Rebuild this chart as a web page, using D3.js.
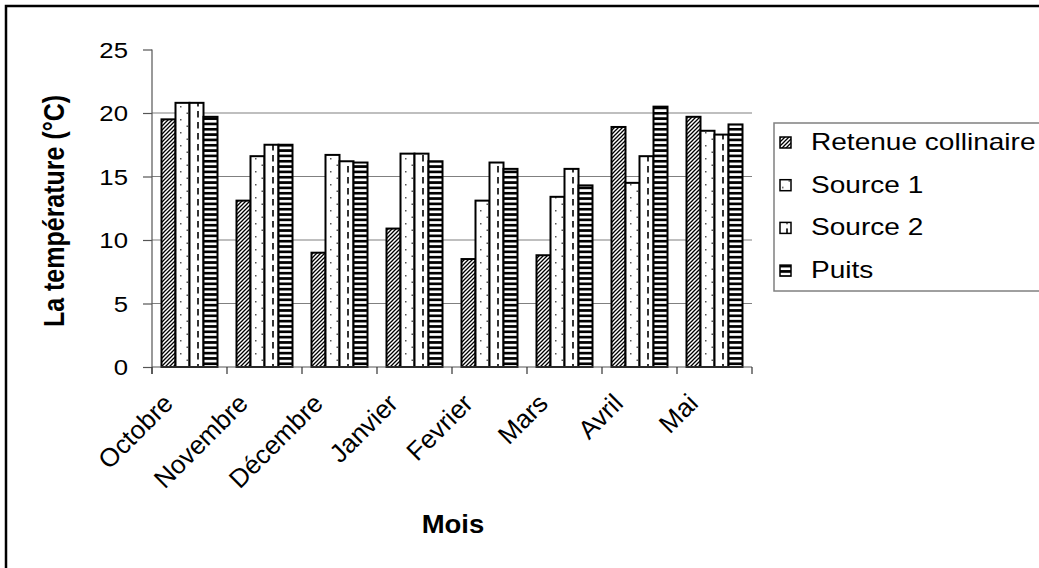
<!DOCTYPE html>
<html>
<head>
<meta charset="utf-8">
<script src="https://cdn.jsdelivr.net/npm/d3@7"></script>
<style>
  body { margin: 0; background: #fff; }
  text { font-family: "Liberation Sans", Arial, sans-serif; fill: #000; }
</style>
</head>
<body>
<div id="chart"></div>
<script>
// Données
var mois = ["Octobre", "Novembre", "Décembre", "Janvier", "Fevrier", "Mars", "Avril", "Mai"];
var series = ["Retenue collinaire", "Source 1", "Source 2", "Puits"];
var retenue = [19.5, 13.1, 9.0, 10.9, 8.5, 8.8, 18.9, 19.7];
var source1 = [20.8, 16.6, 16.7, 16.8, 13.1, 13.4, 14.5, 18.6];
var source2 = [20.8, 17.5, 16.2, 16.8, 16.1, 15.6, 16.6, 18.3];
var puits   = [19.7, 17.5, 16.1, 16.2, 15.6, 14.3, 20.5, 19.1];
var yTicks = [0, 5, 10, 15, 20, 25];

var valeurs = [retenue, source1, source2, puits];
var patterns = ["p-hatch", "p-dots", "p-dash", "p-stripes"];

var W = 1039, H = 568;
var svg = d3.select("#chart").append("svg")
    .attr("width", W)
    .attr("height", H);

// motifs de remplissage
var defs = svg.append("defs");

var hatch = defs.append("pattern").attr("id", "p-hatch")
    .attr("patternUnits", "userSpaceOnUse").attr("width", 4).attr("height", 4);
hatch.append("rect").attr("width", 4).attr("height", 4).attr("fill", "#fff");
hatch.append("path").attr("d", "M-1,1 l2,-2 M0,4 l4,-4 M3,5 l2,-2")
    .attr("stroke", "#000").attr("stroke-width", 1.3);

var dots = defs.append("pattern").attr("id", "p-dots")
    .attr("patternUnits", "userSpaceOnUse").attr("width", 13).attr("height", 13);
dots.append("rect").attr("width", 13).attr("height", 13).attr("fill", "#fff");
dots.append("rect").attr("x", 2).attr("y", 2).attr("width", 1.5).attr("height", 1.5).attr("fill", "#555");
dots.append("rect").attr("x", 8.5).attr("y", 8.5).attr("width", 1.5).attr("height", 1.5).attr("fill", "#555");

var dash = defs.append("pattern").attr("id", "p-dash")
    .attr("patternUnits", "userSpaceOnUse").attr("width", 13).attr("height", 11);
dash.append("rect").attr("width", 13).attr("height", 11).attr("fill", "#fff");
dash.append("rect").attr("x", 6).attr("y", 1).attr("width", 2).attr("height", 6.5).attr("fill", "#333");

var stripes = defs.append("pattern").attr("id", "p-stripes")
    .attr("patternUnits", "userSpaceOnUse").attr("width", 10).attr("height", 5.33);
stripes.append("rect").attr("width", 10).attr("height", 5.33).attr("fill", "#fff");
stripes.append("rect").attr("y", 0).attr("width", 10).attr("height", 2.7).attr("fill", "#000");

// cadre extérieur
svg.append("rect")
    .attr("x", 6).attr("y", 6)
    .attr("width", W + 20).attr("height", H + 20)
    .attr("fill", "none").attr("stroke", "#000").attr("stroke-width", 2.5);

// échelles
var left = 152, right = 752, bottom = 367;
var x0 = d3.scaleBand().domain(mois).range([left, right]).padding(0);
var x1 = d3.scaleBand().domain(series).range([9.5, 65.5]).padding(0);
var y = d3.scaleLinear().domain([0, 25]).range([bottom, 49.5]);

// quadrillage
svg.append("g").selectAll("line")
    .data(yTicks.filter(function (t) { return t > 0 && t < 25; }))
    .enter().append("line")
    .attr("x1", left).attr("x2", right)
    .attr("y1", function (d) { return y(d); })
    .attr("y2", function (d) { return y(d); })
    .attr("stroke", "#808080").attr("stroke-width", 1.2);

// barres
var groupes = svg.append("g").selectAll("g")
    .data(mois)
    .enter().append("g")
    .attr("transform", function (d) { return "translate(" + x0(d) + ",0)"; });

groupes.selectAll("rect")
    .data(function (m, i) {
        return series.map(function (s, j) { return { serie: s, valeur: valeurs[j][i], j: j }; });
    })
    .enter().append("rect")
    .attr("x", function (d) { return x1(d.serie); })
    .attr("width", x1.bandwidth())
    .attr("y", function (d) { return y(d.valeur); })
    .attr("height", function (d) { return bottom - y(d.valeur); })
    .attr("fill", function (d) { return "url(#" + patterns[d.j] + ")"; })
    .attr("stroke", "#000").attr("stroke-width", 2);

// axe Y
var axeY = svg.append("g").attr("transform", "translate(" + left + ",0)")
    .call(d3.axisLeft(y).tickValues(yTicks).tickSize(9).tickFormat(""));
axeY.select(".domain").attr("d", "M0," + y(25) + "V" + (bottom + 7));
axeY.selectAll("path, line").attr("stroke", "#555").attr("stroke-width", 1.2);

yTicks.forEach(function (t) {
    svg.append("g")
        .attr("transform", "translate(128," + (y(t) + 8) + ") scale(1.17,1)")
        .append("text")
        .attr("text-anchor", "end")
        .style("font-size", "22px")
        .text(t);
});

// axe X
var axeX = svg.append("g").attr("transform", "translate(0," + bottom + ")");
axeX.append("line").attr("x1", left).attr("x2", right)
    .attr("stroke", "#555").attr("stroke-width", 1.2);
axeX.selectAll(".tk")
    .data(d3.range(mois.length + 1))
    .enter().append("line")
    .attr("x1", function (i) { return left + i * x0.step(); })
    .attr("x2", function (i) { return left + i * x0.step(); })
    .attr("y1", 0).attr("y2", 7)
    .attr("stroke", "#333").attr("stroke-width", 1.2);

svg.append("g").selectAll("text")
    .data(mois)
    .enter().append("text")
    .attr("text-anchor", "end")
    .attr("transform", function (d) {
        return "translate(" + (x0(d) + x0.bandwidth() / 2 - 15) + ",405) rotate(-45)";
    })
    .style("font-size", "26px")
    .text(function (d) { return d; });

// titres des axes
svg.append("text")
    .attr("transform", "translate(64,211) scale(1.2,1) rotate(-90)")
    .attr("text-anchor", "middle")
    .style("font-size", "25px")
    .style("font-weight", "bold")
    .text("La température (°C)");

svg.append("g")
    .attr("transform", "translate(453,533) scale(1.1,1)")
    .append("text")
    .attr("text-anchor", "middle")
    .style("font-size", "25px")
    .style("font-weight", "bold")
    .text("Mois");

// légende
var legende = svg.append("g");
legende.append("rect")
    .attr("x", 774).attr("y", 123)
    .attr("width", 300).attr("height", 168)
    .attr("fill", "#fff").attr("stroke", "#808080").attr("stroke-width", 1.5);

var items = legende.selectAll(".item")
    .data(series)
    .enter().append("g")
    .attr("transform", function (d, i) { return "translate(780," + (142 + i * 42.7) + ")"; });

items.append("rect")
    .attr("x", 0).attr("y", -5)
    .attr("width", 11).attr("height", 11)
    .attr("fill", function (d, i) { return "url(#" + patterns[i] + ")"; })
    .attr("stroke", "#000").attr("stroke-width", 1.5);

items.append("g")
    .attr("transform", "translate(31,8) scale(1.22,1)")
    .append("text")
    .style("font-size", "23px")
    .text(function (d) { return d; });
</script>
</body>
</html>
